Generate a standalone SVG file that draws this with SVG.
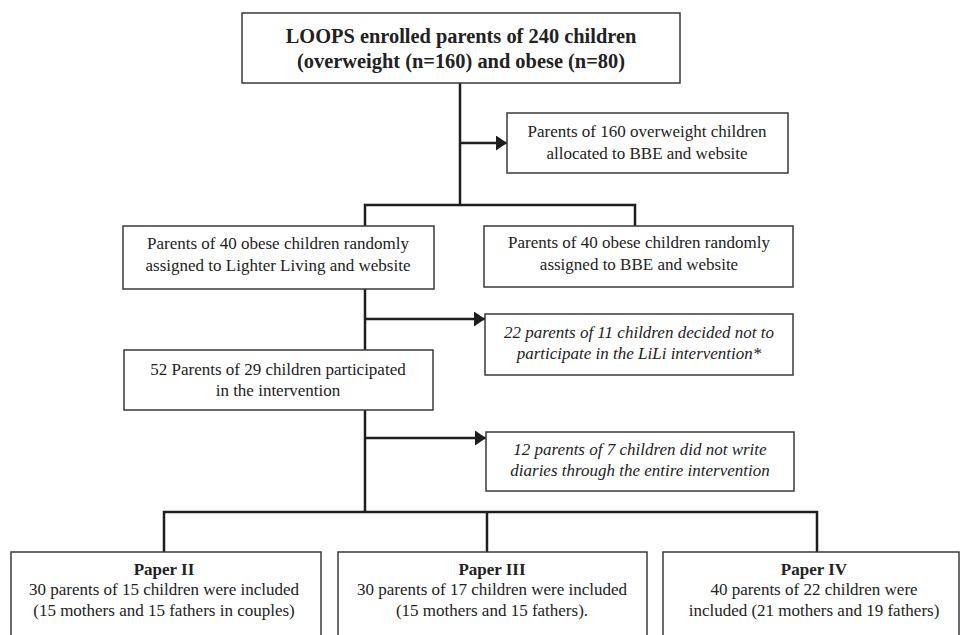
<svg xmlns="http://www.w3.org/2000/svg" width="964" height="635" viewBox="0 0 964 635">
<style>
.box{fill:#fff;stroke:#3a3a3a;stroke-width:1.5}
.t{font-family:'Liberation Serif','Times New Roman',serif;font-size:17px;fill:#222;text-anchor:middle}
.b{font-weight:bold}
.big{font-size:20.4px}
.i{font-style:italic}
.c{fill:none;stroke:#1e1e1e;stroke-width:2.5}
</style>
<defs>
<marker id="ah" viewBox="0 0 11 15" refX="11" refY="7.5" markerWidth="11" markerHeight="15" markerUnits="userSpaceOnUse" orient="auto">
<path d="M0,0 L11,7.5 L0,15 Z" fill="#1e1e1e"/>
</marker>
</defs>
<rect width="964" height="635" fill="#fff"/>
<g id="connectors">
<path class="c" d="M460,83 V205"/>
<path class="c" d="M460,143 H507" marker-end="url(#ah)"/>
<path class="c" d="M365,227 V205 H635 V226"/>
<path class="c" d="M365,289 V350"/>
<path class="c" d="M365,319 H485" marker-end="url(#ah)"/>
<path class="c" d="M365,410 V512"/>
<path class="c" d="M365,438 H486" marker-end="url(#ah)"/>
<path class="c" d="M164,552 V512 H817 V552"/>
<path class="c" d="M487,512 V552"/>
</g>
<g id="n_enrolled">
<rect class="box" x="242" y="13" width="438" height="70"/>
<text class="t b big" x="461" y="43">LOOPS enrolled parents of 240 children</text>
<text class="t b big" x="461" y="68">(overweight (n=160) and obese (n=80)</text>
</g>
<g id="n_overweight">
<rect class="box" x="507" y="113" width="281" height="60"/>
<text class="t" x="647" y="137">Parents of 160 overweight children</text>
<text class="t" x="647" y="159">allocated to BBE and website</text>
</g>
<g id="n_lighter">
<rect class="box" x="123" y="226" width="311" height="63"/>
<text class="t" x="278" y="249">Parents of 40 obese children randomly</text>
<text class="t" x="278" y="271">assigned to Lighter Living and website</text>
</g>
<g id="n_bbe">
<rect class="box" x="484" y="226" width="309" height="61"/>
<text class="t" x="639" y="248">Parents of 40 obese children randomly</text>
<text class="t" x="639" y="270">assigned to BBE and website</text>
</g>
<g id="n_declined">
<rect class="box" x="485" y="314" width="308" height="61"/>
<text class="t i" x="639" y="338">22 parents of 11 children decided not to</text>
<text class="t i" x="639" y="359">participate in the LiLi intervention*</text>
</g>
<g id="n_participated">
<rect class="box" x="124" y="350" width="309" height="60"/>
<text class="t" x="278" y="375">52 Parents of 29 children participated</text>
<text class="t" x="278" y="396">in the intervention</text>
</g>
<g id="n_nodiaries">
<rect class="box" x="486" y="432" width="308" height="59"/>
<text class="t i" x="640" y="455">12 parents of 7 children did not write</text>
<text class="t i" x="640" y="476">diaries through the entire intervention</text>
</g>
<g id="n_paper2">
<rect class="box" x="11" y="552" width="310" height="90"/>
<text class="t b" x="164" y="575">Paper II</text>
<text class="t" x="164" y="595">30 parents of 15 children were included</text>
<text class="t" x="164" y="616">(15 mothers and 15 fathers in couples)</text>
</g>
<g id="n_paper3">
<rect class="box" x="338" y="552" width="309" height="90"/>
<text class="t b" x="492" y="575">Paper III</text>
<text class="t" x="492" y="595">30 parents of 17 children were included</text>
<text class="t" x="492" y="616">(15 mothers and 15 fathers).</text>
</g>
<g id="n_paper4">
<rect class="box" x="663" y="552" width="296" height="90"/>
<text class="t b" x="814" y="575">Paper IV</text>
<text class="t" x="814" y="595">40 parents of 22 children were</text>
<text class="t" x="814" y="616">included (21 mothers and 19 fathers)</text>
</g>
</svg>
